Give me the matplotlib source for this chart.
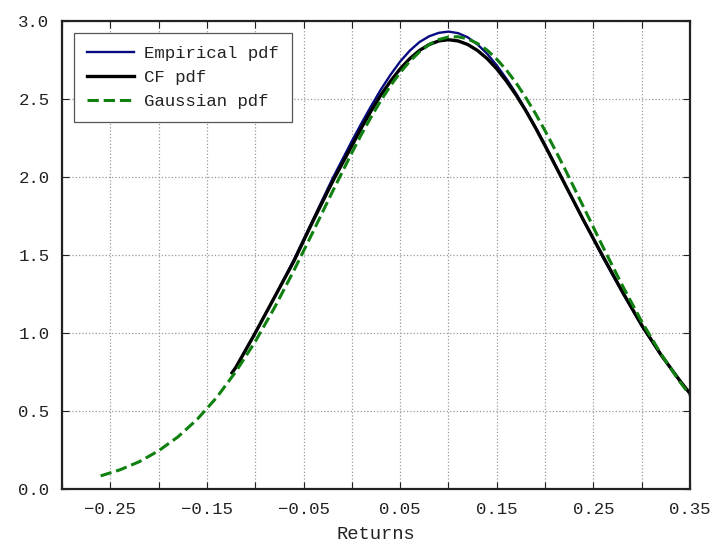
import numpy as np
import matplotlib.pyplot as plt

plt.rcParams['font.family'] = ['Liberation Mono', 'DejaVu Sans Mono']

# Gaussian pdf
gauss_x = [-0.26, -0.24, -0.22, -0.20, -0.18, -0.16, -0.14, -0.12, -0.10, -0.08,
           -0.06, -0.04, -0.02, 0.00, 0.01, 0.02, 0.03, 0.04, 0.05, 0.06,
           0.07, 0.08, 0.09, 0.10, 0.11, 0.12, 0.13, 0.14, 0.15, 0.16,
           0.17, 0.18, 0.19, 0.20, 0.21, 0.22, 0.24, 0.26, 0.28, 0.30,
           0.32, 0.34, 0.35]
gauss_y = [0.084, 0.123, 0.175, 0.245, 0.334, 0.447, 0.586, 0.753, 0.945, 1.163,
           1.400, 1.651, 1.907, 2.155, 2.274, 2.385, 2.490, 2.585, 2.669, 2.742,
           2.802, 2.849, 2.881, 2.897, 2.899, 2.885, 2.856, 2.813, 2.755, 2.685,
           2.603, 2.509, 2.407, 2.296, 2.179, 2.058, 1.805, 1.550, 1.304, 1.073,
           0.865, 0.683, 0.602]

# CF pdf
cf_x = [-0.124, -0.12, -0.10, -0.08, -0.06, -0.04, -0.02, 0.00, 0.01, 0.02,
        0.03, 0.04, 0.05, 0.06, 0.07, 0.08, 0.09, 0.10, 0.11, 0.12,
        0.13, 0.14, 0.15, 0.16, 0.17, 0.18, 0.19, 0.20, 0.21, 0.22,
        0.24, 0.26, 0.28, 0.30, 0.32, 0.34, 0.35]
cf_y = [0.745, 0.78, 1.00, 1.23, 1.46, 1.72, 1.97, 2.20, 2.316, 2.425,
        2.525, 2.614, 2.693, 2.759, 2.811, 2.849, 2.872, 2.880, 2.872, 2.849,
        2.811, 2.759, 2.693, 2.614, 2.525, 2.425, 2.316, 2.200, 2.080, 1.960,
        1.720, 1.490, 1.265, 1.050, 0.860, 0.690, 0.612]

# Empirical pdf
emp_x = cf_x
emp_y = [0.745, 0.78, 1.00, 1.23, 1.47, 1.73, 1.99, 2.23, 2.345, 2.455,
         2.560, 2.655, 2.740, 2.810, 2.865, 2.902, 2.924, 2.932, 2.922, 2.895,
         2.850, 2.790, 2.715, 2.630, 2.535, 2.430, 2.320, 2.205, 2.085, 1.960,
         1.718, 1.482, 1.258, 1.046, 0.858, 0.688, 0.612]

x_ticks = [-0.30, -0.25, -0.20, -0.15, -0.10, -0.05, 0.00, 0.05, 0.10, 0.15,
           0.20, 0.25, 0.30, 0.35]
x_labels = ['', '\u22120.25', '', '\u22120.15', '', '\u22120.05', '', '0.05', '',
            '0.15', '', '0.25', '', '0.35']
y_ticks = [0.0, 0.5, 1.0, 1.5, 2.0, 2.5, 3.0]
y_labels = ['0.0', '0.5', '1.0', '1.5', '2.0', '2.5', '3.0']

fig = plt.figure(figsize=(7.19, 5.55), dpi=100)
ax = fig.add_axes([0.0862, 0.1189, 0.8735, 0.8433])

ax.plot(emp_x, emp_y, color='#0a0a80', lw=1.7, label='Empirical pdf')
ax.plot(cf_x, cf_y, color='black', lw=2.4, label='CF pdf')
ax.plot(gauss_x, gauss_y, color='#108010', lw=2.2, ls='--', label='Gaussian pdf')

ax.set_xlim(-0.30, 0.35)
ax.set_ylim(0.0, 3.0)
ax.set_xticks(x_ticks)
ax.set_xticklabels(x_labels)
ax.set_yticks(y_ticks)
ax.set_yticklabels(y_labels)
ax.tick_params(direction='in', top=True, right=True, length=5, width=0.8,
               labelsize=12.5, pad=9, colors='#222222')
ax.grid(True, color='0.6', ls=':', lw=0.9)
for s in ax.spines.values():
    s.set_linewidth(1.6)
    s.set_color('#222222')

ax.set_xlabel('Returns', fontsize=13.5, color='#222222', labelpad=7)

leg = ax.legend(loc='upper left', fontsize=12.5, fancybox=False, framealpha=1,
                edgecolor='#555555', handlelength=2.7, handletextpad=0.6,
                labelspacing=0.5, borderaxespad=0.7, borderpad=0.75)
leg.get_frame().set_linewidth(0.9)
for t in leg.get_texts():
    t.set_color('#222222')

fig.savefig('out.png', dpi=100)
